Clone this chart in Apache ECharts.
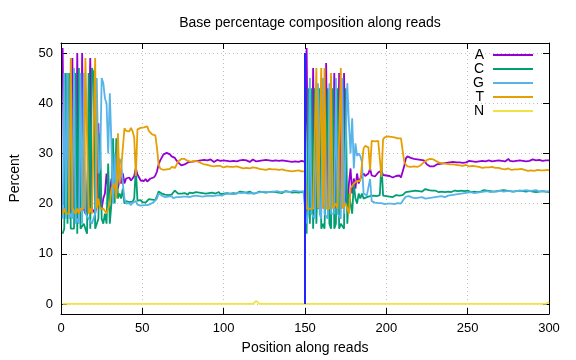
<!DOCTYPE html>
<html>
<head>
<meta charset="utf-8">
<script src="https://cdn.jsdelivr.net/npm/echarts@6/dist/echarts.min.js"></script>
<style>html,body{margin:0;padding:0;background:#fff}#c{width:576px;height:360px}</style>
</head>
<body>
<div id="c"></div>
<script>
// Series values, positions 1..150 (read 1) and 151..300 (read 2)
const aRead1 = [51,20,19,20,19,18,49,19,20,50,19,20,50,19,18,19,19,49,19,19,18,20,36,20,19,21,22,26,23,22,
25,24,26,24,23,25,24,26,24,25,24.8,25.2,24.6,25.0,25.5,27.0,25.8,25.2,24.6,24.8,24.5,24.9,24.4,24.6,25.0,25.3,25.2,25.6,26.4,27.8,
28.6,29.2,29.8,30.0,30.1,29.9,29.8,29.4,29.6,29.1,28.6,28.2,27.9,27.6,27.7,27.8,27.9,28.2,28.0,28.3,28.1,28.4,28.2,28.5,28.3,28.6,28.4,28.7,28.5,28.6,
28.4,28.8,28.5,28.3,28.6,28.7,28.4,28.5,28.8,28.6,28.3,28.5,28.7,28.4,28.6,28.5,28.8,28.4,28.3,28.6,28.5,28.7,28.4,28.6,28.5,28.3,28.6,28.8,28.5,28.4,
28.6,28.5,28.3,28.6,28.4,28.7,28.5,28.6,28.4,28.5,28.7,28.6,28.9,28.5,28.4,28.6,28.3,28.5,28.6,28.4,28.5,28.3,28.6,28.4,28.5,28.3,28.4,28.5,28.3,28.3];
const aRead2 = [51,20,19,20,47,19,20,19,20,19,20,19,48,19,20,19,20,46,19,20,46,19,20,46,21,19,24,27,22,25,
23,26,24,25,25.5,26,25.5,25.8,26,27,25.6,25.8,25.4,25.6,26.2,25.9,26.6,25.7,25.4,25.6,25.3,25.5,25.6,25.2,25.4,25.5,25.3,25.6,25.2,25.3,
27.5,29.0,29.4,29.3,29.1,29.2,28.9,29.0,28.8,29.1,28.7,28.9,28.6,28.2,27.8,27.6,27.4,27.5,27.4,27.6,27.8,28.0,27.9,28.1,28.0,28.2,28.1,28.0,28.2,28.1,
28.3,28.1,28.2,28.4,28.2,28.3,28.1,28.4,28.2,28.3,28.5,28.2,28.4,28.6,28.3,28.5,28.4,28.2,28.5,28.7,28.4,28.3,28.6,28.5,28.4,28.7,28.5,28.3,28.6,28.4,
28.5,28.7,28.4,28.6,28.9,28.5,28.6,28.4,28.7,28.5,28.3,28.6,28.8,28.5,28.7,28.4,28.6,28.5,28.7,28.8,28.5,28.6,28.4,28.7,28.6,28.5,28.7,28.6,28.5,28.6];

const cRead1 = [14,15,46,16,46,15,15,15,46,14,47,15,15,16,15,14,46,15,47,46,15,16,17,34,17,16,18,16,28,16,
20,33,20,33,21,22,21,23,20,20.5,20.8,20.3,20.6,20.4,21.0,27.0,20.6,20.3,20.7,20.3,20.6,20.2,20.5,20.9,20.6,20.8,21.0,20.7,21.5,22.4,
22.3,22.0,22.1,21.8,21.9,21.7,22.0,21.8,22.2,22.6,22.4,22.0,22.1,22.0,21.8,22.1,21.9,21.8,22.2,22.0,22.1,21.9,22.3,22.0,22.2,21.9,22.1,22.3,22.0,22.2,
22.1,21.9,22.2,22.4,22.0,22.1,22.3,21.9,22.2,22.0,22.3,22.1,22.4,22.0,22.2,22.1,22.3,22.0,22.2,22.4,22.1,22.3,22.0,22.2,22.1,22.4,22.2,22.0,22.3,22.1,
22.2,22.4,22.1,22.3,22.0,22.2,22.5,22.3,22.1,22.4,22.2,22.3,22.6,22.2,22.4,22.1,22.3,22.5,22.2,22.4,22.3,22.2,22.5,22.3,22.4,22.2,22.5,22.3,22.4,22.4];
const cRead2 = [14,43,16,43,15,43,16,16,43,15,16,15,15,43,16,15,43,15,16,43,15,16,16,15,43,16,22,20,18,24,
21,20,22,21,22,21,21,21.3,21,21.5,21.4,21.6,21.3,21.5,21.4,21.7,28,21.6,21.3,21.5,21.2,21.4,21.6,21.3,21.5,21.7,21.4,21.6,21.8,21.7,
22,22.3,22.1,22.4,22.2,22.5,22.3,22.6,22.4,22.5,22.7,22.4,22.6,22.9,23.0,22.7,22.5,22.6,22.4,22.6,22.5,22.3,22.6,22.4,22.5,22.3,22.6,22.4,22.5,22.3,
22.4,22.6,22.3,22.5,22.4,22.6,22.3,22.5,22.4,22.6,22.5,22.3,22.6,22.4,22.5,22.3,22.6,22.4,22.5,22.7,22.4,22.6,22.3,22.5,22.7,22.4,22.6,22.5,22.3,22.6,
22.5,22.7,22.4,22.6,22.3,22.5,22.7,22.4,22.6,22.5,22.3,22.6,22.4,22.5,22.7,22.4,22.3,22.6,22.5,22.4,22.6,22.3,22.5,22.4,22.2,22.5,22.3,22.4,22.2,22.3];

const gRead1 = [17,46,17,46,17,18,17,47,16,17,16,46,16,46,18,18,17,17,16,17,18,45,26,27,45,44,41,40,30,42,
32,20,30,22,22,29,28,24,21,20,19.8,20.1,19.7,20.2,20.3,20.5,19.8,19.9,19.6,19.8,19.7,19.8,19.7,20.0,19.9,20.1,20.3,20.1,21.0,22.0,
22.1,21.6,21.4,21.3,21.2,21.4,21.3,21.5,21.1,21.2,21.3,21.4,21.3,21.5,21.4,21.2,21.4,21.5,21.3,21.4,21.5,21.3,21.6,21.4,21.5,21.7,21.4,21.6,21.5,21.7,
21.6,21.8,21.5,21.7,21.6,21.8,21.7,21.9,21.6,21.8,21.9,21.7,22.0,21.8,21.9,22.1,21.9,22.0,22.2,21.9,22.1,22.0,22.2,22.1,22.0,22.3,22.1,22.2,22.0,22.3,
22.2,22.1,22.3,22.2,22.4,22.2,22.3,22.5,22.3,22.2,22.4,22.3,22.5,22.4,22.3,22.5,22.4,22.6,22.4,22.5,22.3,22.5,22.6,22.4,22.5,22.6,22.4,22.6,22.5,22.6];
const gRead2 = [16,18,45,18,18,17,17,44,18,17,45,18,18,17,44,18,18,18,45,18,18,17,45,18,18,44,36,30,37,27,
32,29.5,30,29.5,28.3,22,22,21.6,21.8,24.9,20.5,20.3,20.2,20.4,20.1,20.3,20.1,20.0,19.9,20.1,20.0,19.8,20.0,20.1,19.9,20.0,20.1,19.9,20.0,20.2,
21.0,21.4,21.6,21.5,21.3,21.2,21.4,21.1,21.3,21.2,21.1,21.3,21.2,21.0,21.2,21.1,21.3,21.2,21.4,21.3,21.2,21.4,21.3,21.5,21.4,21.3,21.5,21.6,21.5,21.7,
21.6,21.8,21.7,21.9,21.8,22.0,21.9,22.1,22.0,22.2,22.1,22.3,22.2,22.1,22.3,22.2,22.4,22.3,22.2,22.4,22.3,22.5,22.4,22.3,22.5,22.4,22.6,22.4,22.5,22.6,
22.5,22.4,22.6,22.5,22.7,22.5,22.6,22.4,22.6,22.5,22.7,22.6,22.4,22.6,22.5,22.7,22.6,22.5,22.4,22.6,22.5,22.7,22.6,22.4,22.6,22.5,22.6,22.4,22.5,22.5];

const tRead1 = [18,19,18,18,18,49,19,19,18,19,18,19,19,19,49,49,18,19,18,18,49,19,21,19,19,19,19,18,19,20,
23,23,24,21,34,24,27,27,35,34.5,34.6,34.4,35.1,34.4,33.2,25.5,34.8,34.6,35.1,35.1,35.2,35.1,35.4,34.5,34.5,33.8,33.5,33.6,31.1,27.8,
27.0,27.2,26.7,26.9,26.8,27.0,26.9,27.3,27.1,27.1,27.7,28.4,28.7,28.9,29.1,28.9,28.8,28.5,28.5,28.3,28.4,28.5,28.3,28.4,28.2,28.1,28.0,27.8,27.9,27.7,
27.8,27.5,27.6,27.4,27.6,27.5,27.3,27.5,27.4,27.2,27.3,27.4,27.2,27.3,27.1,27.3,27.2,27.4,27.1,27.2,27.3,27.0,27.2,27.1,27.3,27.0,27.1,27.2,27.0,27.1,
27.0,26.9,27.1,26.8,26.9,26.7,26.8,26.9,26.7,26.8,26.6,26.8,26.5,26.7,26.6,26.8,26.5,26.6,26.7,26.5,26.6,26.4,26.6,26.5,26.4,26.6,26.5,26.4,26.5,26.4];
const tRead2 = [19,19,19,19,19,19,47,19,19,47,19,47,19,19,19,46,19,19,20,19,19,47,19,19,20,19,18,23,23,24,
24,24.5,24.3,24.5,24.2,31,31.5,31.3,31.2,26.6,32.5,32.6,32.4,32.7,32.5,32.6,25.3,32.8,33.2,33.3,33.4,33.5,33.3,33.4,33.2,33.1,33.0,32.9,33.0,32.8,
28.3,27.8,27.4,27.2,27.3,27.1,27.4,27.2,27.3,27.5,27.6,27.9,28.2,28.5,28.7,28.8,28.9,28.7,28.8,28.6,28.4,28.3,28.1,28.2,28.0,28.1,27.9,28.0,27.8,27.9,
27.8,27.9,27.7,27.8,27.6,27.7,27.5,27.6,27.7,27.5,27.4,27.6,27.5,27.3,27.4,27.2,27.3,27.4,27.1,27.3,27.2,27.0,27.2,27.1,27.3,27.0,27.1,26.9,27.1,27.0,
26.9,27.0,26.8,26.9,27.0,26.8,26.7,26.9,26.8,26.6,26.8,26.7,26.9,26.6,26.7,26.8,26.5,26.7,26.6,26.8,26.5,26.6,26.7,26.5,26.6,26.4,26.6,26.5,26.7,26.6];

// N is ~0 everywhere, with a tiny bump near 120 and at the end
const nPositions = [1, 118, 120, 122, 298, 300];
const nValues    = [0, 0, 0.6, 0, 0, 0.4];

// Read separator line at position 150
const sepPositions = [150, 150];
const sepValues = [0, 50];

const xTicks = [0, 50, 100, 150, 200, 250, 300];
const yTicks = [0, 10, 20, 30, 40, 50];
const names = ['A', 'C', 'G', 'T', 'N'];
const colors = ['#9400d3', '#009e73', '#56b4e9', '#e69f00', '#f0e442'];

function pairs(values, start) {
  return values.map((v, i) => [start + i, v]);
}
const seriesValues = [
  pairs(aRead1, 1).concat(pairs(aRead2, 151)),
  pairs(cRead1, 1).concat(pairs(cRead2, 151)),
  pairs(gRead1, 1).concat(pairs(gRead2, 151)),
  pairs(tRead1, 1).concat(pairs(tRead2, 151)),
  nPositions.map((p, i) => [p, nValues[i]])
];

const font = 'Liberation Sans, Arial, sans-serif';
const chart = echarts.init(document.getElementById('c'), null, {renderer: 'canvas'});

const series = names.map((n, i) => ({
  name: n, type: 'line', data: seriesValues[i], showSymbol: false, symbol: 'none',
  lineStyle: {width: 1.8, color: colors[i]}, itemStyle: {color: colors[i]},
  z: 2 + i, silent: true
}));
series.push({
  name: 'sep', type: 'line', data: sepPositions.map((p, i) => [p, sepValues[i]]),
  symbol: 'none', lineStyle: {width: 2, color: '#2424ff'}, z: 10, silent: true
});

const axisCommonX = {
  type: 'value', min: 0, max: 300, interval: 50,
  axisLine: {show: true, onZero: false, lineStyle: {color: '#000', width: 1}},
  axisTick: {show: true, inside: true, length: 6, lineStyle: {color: '#000'}}
};
const axisCommonY = {
  type: 'value', min: -2, max: 52,
  axisLine: {show: true, onZero: false, lineStyle: {color: '#000', width: 1}},
  axisTick: {show: true, inside: true, length: 6, customValues: yTicks, lineStyle: {color: '#000'}}
};

chart.setOption({
  animation: false,
  backgroundColor: '#fff',
  title: {
    text: 'Base percentage composition along reads',
    left: 305, top: 11, textAlign: 'center',
    textStyle: {fontFamily: font, fontSize: 14, fontWeight: 'normal', color: '#000'}
  },
  legend: {
    data: names, orient: 'vertical', right: 38, top: 43, align: 'right',
    icon: 'rect', itemWidth: 40, itemHeight: 2, itemGap: 0,
    textStyle: {fontFamily: font, fontSize: 14, lineHeight: 14, color: '#000', padding: [0, 4, 0, 0]},
    selectedMode: false
  },
  grid: {left: 60, right: 27, top: 43, bottom: 45, containLabel: false},
  xAxis: [
    Object.assign({}, axisCommonX, {
      position: 'bottom',
      name: 'Position along reads', nameLocation: 'middle', nameGap: 27,
      nameTextStyle: {fontFamily: font, fontSize: 14, color: '#000'},
      axisLabel: {show: true, margin: 8, fontFamily: font, fontSize: 13, color: '#000',
        customValues: xTicks},
      splitLine: {show: true, lineStyle: {color: '#c0c0c0', type: [1, 3], width: 1}}
    }),
    Object.assign({}, axisCommonX, {
      position: 'top', axisLabel: {show: false}, splitLine: {show: false}
    })
  ],
  yAxis: [
    Object.assign({}, axisCommonY, {
      position: 'left',
      name: 'Percent', nameLocation: 'middle', nameGap: 39,
      nameTextStyle: {fontFamily: font, fontSize: 14, color: '#000'},
      axisLabel: {show: true, margin: 8, fontFamily: font, fontSize: 13, color: '#000',
        customValues: yTicks},
      splitLine: {show: true, lineStyle: {color: '#c0c0c0', type: [1, 3], width: 1}}
    }),
    Object.assign({}, axisCommonY, {
      position: 'right', axisLabel: {show: false}, splitLine: {show: false}
    })
  ],
  series: series
});
</script>
</body>
</html>
